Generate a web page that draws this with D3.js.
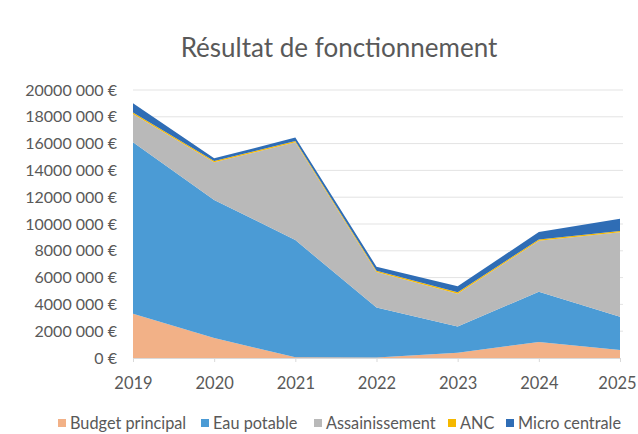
<!DOCTYPE html>
<html><head><meta charset="utf-8">
<script src="https://cdn.jsdelivr.net/npm/d3@7/dist/d3.min.js"></script>
<style>html,body{margin:0;padding:0;background:#fff;}svg{display:block;font-family:Lato,"Open Sans",sans-serif;}</style>
</head><body>
<svg id="c" width="638" height="434"></svg>
<script>
const years = ["2019","2020","2021","2022","2023","2024","2025"];
const seriesNames = ["Budget principal","Eau potable","Assainissement","ANC","Micro centrale"];
const budgetPrincipal = [3300000,1500000,50000,30000,400000,1200000,600000];
const eauPotable      = [12800000,10300000,8750000,3730000,1950000,3750000,2480000];
const assainissement  = [2100000,2800000,7300000,2650000,2450000,3800000,6300000];
const anc             = [120000,100000,100000,100000,100000,100000,100000];
const microCentrale   = [700000,200000,250000,300000,450000,550000,920000];
const yTickValues = [0,2000000,4000000,6000000,8000000,10000000,12000000,14000000,16000000,18000000,20000000];
const yTickLabels = ["0 €","2000 000 €","4000 000 €","6000 000 €","8000 000 €","10000 000 €","12000 000 €","14000 000 €","16000 000 €","18000 000 €","20000 000 €"];
const colors = ["#f2b187","#4b9bd5","#b9b9b9","#f5b800","#2f6db5"];

const svg = d3.select("#c");
const rows = years.map((y,i)=>({year:y,"Budget principal":budgetPrincipal[i],"Eau potable":eauPotable[i],"Assainissement":assainissement[i],"ANC":anc[i],"Micro centrale":microCentrale[i]}));

const x = d3.scalePoint().domain(years).range([133,620]);
const y = d3.scaleLinear().domain([0,20000000]).range([358,90]);

// gridlines
svg.append("g").selectAll("line").data(yTickValues.slice(1)).join("line")
  .attr("x1",133).attr("x2",623).attr("y1",d=>y(d)).attr("y2",d=>y(d))
  .attr("stroke","#e3e3e3").attr("stroke-width",1);

const stack = d3.stack().keys(seriesNames)(rows);
const area = d3.area().x(d=>x(d.data.year)).y0(d=>y(d[0])).y1(d=>y(d[1]));
svg.append("g").selectAll("path").data(stack).join("path")
  .attr("d",area).attr("fill",(d,i)=>colors[i]);

// y axis labels
const yAxis = d3.axisLeft(y).tickValues(yTickValues).tickFormat((d,i)=>yTickLabels[i]).tickSize(0).tickPadding(0);
const gy = svg.append("g").attr("transform","translate(117,0)").call(yAxis);
gy.select(".domain").remove();
gy.selectAll("text").attr("fill","#595959").style("font-size","16px").style("font-family","Lato,sans-serif");

// x axis
const xAxis = d3.axisBottom(x).tickSize(4).tickPadding(15);
const gx = svg.append("g").attr("transform","translate(0,358)").call(xAxis);
gx.select(".domain").attr("stroke","#d9d9d9");
gx.selectAll("line").attr("stroke","#d9d9d9");
gx.selectAll("text").attr("fill","#595959").style("font-size","16.5px").style("font-family","Lato,sans-serif");
gx.selectAll(".tick").filter((d,i,n)=>i===n.length-1).select("text").attr("dx","-3");

// title
svg.append("text").attr("x",339).attr("y",57).attr("text-anchor","middle")
  .attr("fill","#595959").style("font-size","26px").style("font-family","Lato,sans-serif")
  .text("Résultat de fonctionnement");

// legend
const legX = [58,201,314,448,506];
const lg = svg.append("g").selectAll("g").data(seriesNames).join("g")
  .attr("transform",(d,i)=>`translate(${legX[i]},423)`);
lg.append("rect").attr("x",0).attr("y",-4).attr("width",8).attr("height",8).attr("fill",(d,i)=>colors[i]);
lg.append("text").attr("x",12).attr("y",0).attr("dy","0.35em").attr("fill","#595959")
  .style("font-size","16.3px").style("font-family","Lato,sans-serif").text(d=>d);
</script>
</body></html>
